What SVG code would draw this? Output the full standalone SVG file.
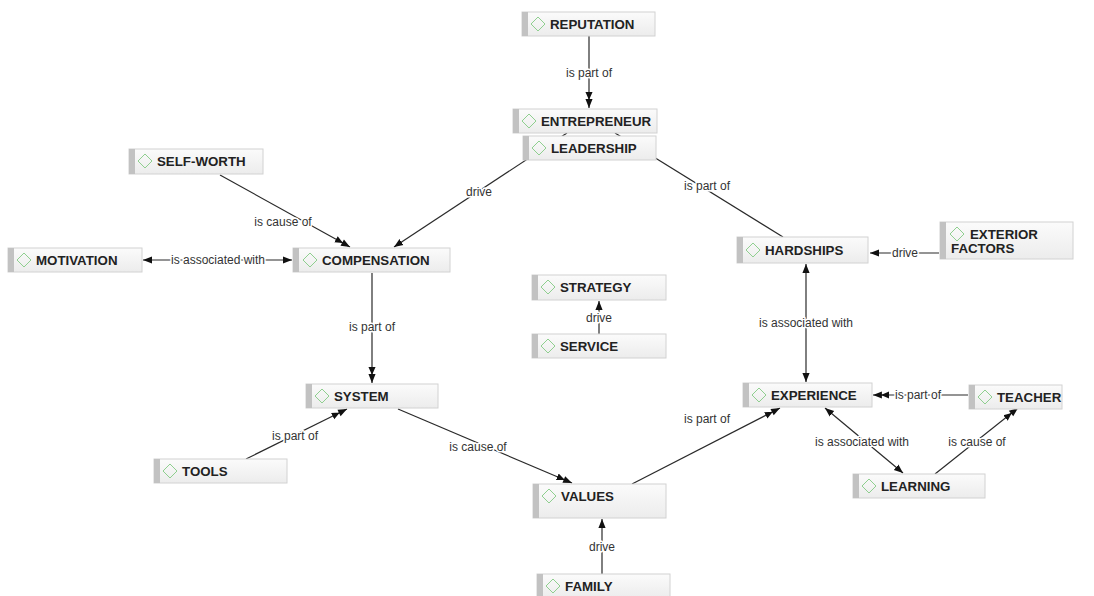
<svg xmlns="http://www.w3.org/2000/svg" width="1094" height="596" viewBox="0 0 1094 596">
<defs>
<linearGradient id="g" x1="0" y1="0" x2="0" y2="1"><stop offset="0" stop-color="#fbfbfb"/><stop offset="1" stop-color="#ececec"/></linearGradient>
<marker id="a1" viewBox="0 0 10 10" refX="10" refY="5" markerWidth="9" markerHeight="9" markerUnits="userSpaceOnUse" orient="auto-start-reverse"><path d="M0,1 L10,5 L0,9 z" fill="#111"/></marker>
<marker id="a2" viewBox="0 0 18 10" refX="18" refY="5" markerWidth="16" markerHeight="9" markerUnits="userSpaceOnUse" orient="auto"><path d="M0,1 L9,5 L0,9 z M8,1 L18,5 L8,9 z" fill="#111"/></marker>
</defs>
<style>
.bx{fill:url(#g);stroke:#d2d2d2;stroke-width:1}
.bar{fill:#c2c2c2}
.dm{fill:none;stroke:#8fcf8f;stroke-width:1}
.t{font-family:"Liberation Sans",Arial,sans-serif;font-weight:bold;font-size:13.3px;fill:#222}
.c{fill:none;stroke:#2a2a2a;stroke-width:1.2}
.l{font-family:"Liberation Sans",Arial,sans-serif;font-size:12px;fill:#333;text-anchor:middle;stroke:#fff;stroke-width:3px;paint-order:stroke;stroke-linejoin:round}
</style>
<rect width="1094" height="596" fill="#fff"/>
<g id="connectors">
<line class="c" x1="589" y1="36" x2="589" y2="108" marker-end="url(#a2)"/>
<text class="l" x="589" y="77">is part of</text>
<line class="c" x1="567" y1="133" x2="394" y2="247" marker-end="url(#a1)"/>
<text class="l" x="479" y="196">drive</text>
<line class="c" x1="615" y1="133" x2="783" y2="237"/>
<text class="l" x="707" y="190">is part of</text>
<line class="c" x1="220" y1="175" x2="350" y2="247" marker-end="url(#a2)"/>
<text class="l" x="283" y="226">is cause of</text>
<line class="c" x1="143" y1="260" x2="292" y2="260" marker-start="url(#a1)" marker-end="url(#a1)"/>
<text class="l" x="218" y="264">is associated with</text>
<line class="c" x1="939" y1="253" x2="870" y2="253" marker-end="url(#a1)"/>
<text class="l" x="905" y="257">drive</text>
<line class="c" x1="806" y1="264" x2="806" y2="382" marker-start="url(#a1)" marker-end="url(#a1)"/>
<text class="l" x="806" y="327">is associated with</text>
<line class="c" x1="599" y1="334" x2="599" y2="301" marker-end="url(#a1)"/>
<text class="l" x="599" y="322">drive</text>
<line class="c" x1="372" y1="273" x2="372" y2="383" marker-end="url(#a2)"/>
<text class="l" x="372" y="331">is part of</text>
<line class="c" x1="246" y1="459" x2="347" y2="409" marker-end="url(#a2)"/>
<text class="l" x="295" y="440">is part of</text>
<line class="c" x1="398" y1="409" x2="572" y2="483" marker-end="url(#a2)"/>
<text class="l" x="478" y="451">is cause of</text>
<line class="c" x1="602" y1="574" x2="602" y2="519" marker-end="url(#a1)"/>
<text class="l" x="602" y="551">drive</text>
<line class="c" x1="632" y1="484" x2="780" y2="408" marker-end="url(#a2)"/>
<text class="l" x="707" y="423">is part of</text>
<line class="c" x1="968" y1="395" x2="873" y2="395" marker-end="url(#a2)"/>
<text class="l" x="918" y="399">is part of</text>
<line class="c" x1="825" y1="408" x2="903" y2="473" marker-start="url(#a1)" marker-end="url(#a1)"/>
<text class="l" x="862" y="446">is associated with</text>
<line class="c" x1="935" y1="474" x2="1018" y2="408" marker-end="url(#a2)"/>
<text class="l" x="977" y="446">is cause of</text>
</g>
<g id="n-reputation"><rect class="bx" x="522" y="12" width="133" height="24"/><rect class="bar" x="522" y="12" width="6" height="24"/><path class="dm" d="M538,17 L545,24 L538,31 L531,24 z"/><text class="t" x="550" y="29">REPUTATION</text></g>
<g id="n-entrepreneur"><rect class="bx" x="513" y="109" width="144" height="24"/><rect class="bar" x="513" y="109" width="6" height="24"/><path class="dm" d="M529,114 L536,121 L529,128 L522,121 z"/><text class="t" x="541" y="126">ENTREPRENEUR</text></g>
<g id="n-leadership"><rect class="bx" x="523" y="136" width="133" height="24"/><rect class="bar" x="523" y="136" width="6" height="24"/><path class="dm" d="M539,141 L546,148 L539,155 L532,148 z"/><text class="t" x="551" y="153">LEADERSHIP</text></g>
<g id="n-selfworth"><rect class="bx" x="129" y="149" width="134" height="25"/><rect class="bar" x="129" y="149" width="6" height="25"/><path class="dm" d="M145,154 L152,161 L145,168 L138,161 z"/><text class="t" x="157" y="166">SELF-WORTH</text></g>
<g id="n-motivation"><rect class="bx" x="8" y="248" width="134" height="24"/><rect class="bar" x="8" y="248" width="6" height="24"/><path class="dm" d="M24,253 L31,260 L24,267 L17,260 z"/><text class="t" x="36" y="265">MOTIVATION</text></g>
<g id="n-compensation"><rect class="bx" x="293" y="248" width="157" height="24"/><rect class="bar" x="293" y="248" width="6" height="24"/><path class="dm" d="M310,253 L317,260 L310,267 L303,260 z"/><text class="t" x="322" y="265">COMPENSATION</text></g>
<g id="n-hardships"><rect class="bx" x="737" y="237" width="131" height="26"/><rect class="bar" x="737" y="237" width="6" height="26"/><path class="dm" d="M753,243 L760,250 L753,257 L746,250 z"/><text class="t" x="765" y="255">HARDSHIPS</text></g>
<g id="n-exterior"><rect class="bx" x="940" y="222" width="133" height="37"/><rect class="bar" x="940" y="222" width="6" height="37"/><path class="dm" d="M957,227 L964,234 L957,241 L950,234 z"/><text class="t" x="970" y="239">EXTERIOR</text><text class="t" x="951" y="253">FACTORS</text></g>
<g id="n-strategy"><rect class="bx" x="532" y="275" width="134" height="25"/><rect class="bar" x="532" y="275" width="6" height="25"/><path class="dm" d="M548,280 L555,287 L548,294 L541,287 z"/><text class="t" x="560" y="292">STRATEGY</text></g>
<g id="n-service"><rect class="bx" x="532" y="334" width="134" height="24"/><rect class="bar" x="532" y="334" width="6" height="24"/><path class="dm" d="M548,339 L555,346 L548,353 L541,346 z"/><text class="t" x="560" y="351">SERVICE</text></g>
<g id="n-system"><rect class="bx" x="306" y="384" width="132" height="24"/><rect class="bar" x="306" y="384" width="6" height="24"/><path class="dm" d="M322,389 L329,396 L322,403 L315,396 z"/><text class="t" x="334" y="401">SYSTEM</text></g>
<g id="n-tools"><rect class="bx" x="154" y="459" width="133" height="24"/><rect class="bar" x="154" y="459" width="6" height="24"/><path class="dm" d="M170,464 L177,471 L170,478 L163,471 z"/><text class="t" x="182" y="476">TOOLS</text></g>
<g id="n-values"><rect class="bx" x="533" y="484" width="133" height="34"/><rect class="bar" x="533" y="484" width="6" height="34"/><path class="dm" d="M549,489 L556,496 L549,503 L542,496 z"/><text class="t" x="561" y="501">VALUES</text></g>
<g id="n-family"><rect class="bx" x="537" y="574" width="133" height="24"/><rect class="bar" x="537" y="574" width="6" height="24"/><path class="dm" d="M553,579 L560,586 L553,593 L546,586 z"/><text class="t" x="565" y="591">FAMILY</text></g>
<g id="n-experience"><rect class="bx" x="743" y="383" width="129" height="24"/><rect class="bar" x="743" y="383" width="6" height="24"/><path class="dm" d="M759,388 L766,395 L759,402 L752,395 z"/><text class="t" x="771" y="400">EXPERIENCE</text></g>
<g id="n-teacher"><rect class="bx" x="969" y="385" width="93" height="24"/><rect class="bar" x="969" y="385" width="6" height="24"/><path class="dm" d="M985,390 L992,397 L985,404 L978,397 z"/><text class="t" x="997" y="402">TEACHER</text></g>
<g id="n-learning"><rect class="bx" x="853" y="474" width="132" height="24"/><rect class="bar" x="853" y="474" width="6" height="24"/><path class="dm" d="M869,479 L876,486 L869,493 L862,486 z"/><text class="t" x="881" y="491">LEARNING</text></g>
</svg>
